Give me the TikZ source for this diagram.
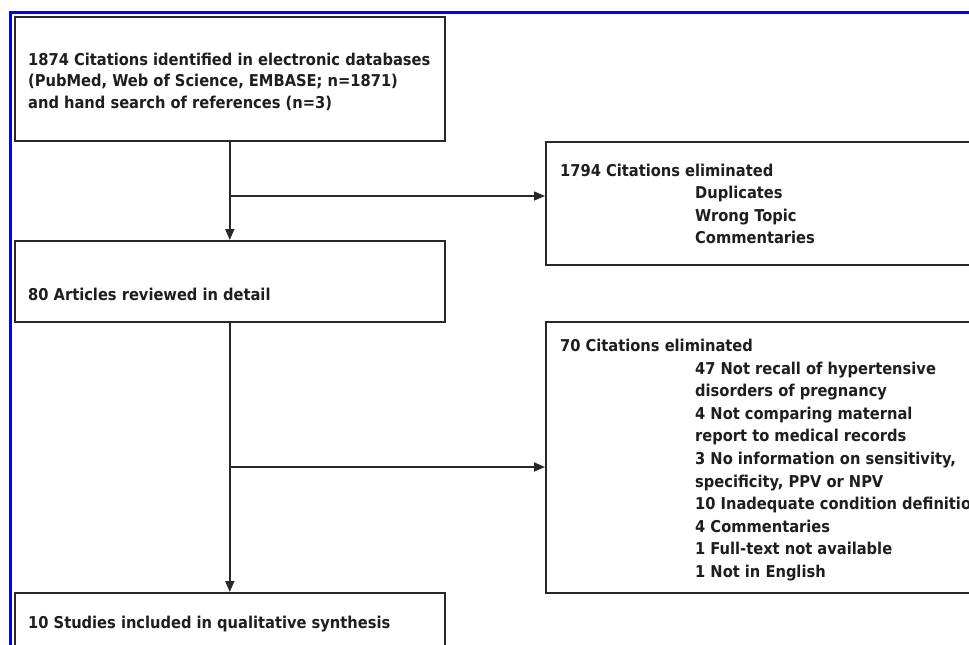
\documentclass[tikz,border=0pt]{standalone}
\usepackage{fontspec}
\setmainfont{DejaVu Sans Condensed}
\usetikzlibrary{arrows.meta}
\definecolor{frameblue}{RGB}{0,0,255}
\definecolor{boxline}{RGB}{40,40,40}
\definecolor{txt}{RGB}{30,30,30}
\newcommand{\lines}[1]{\begin{tabular}[t]{@{}l@{}}#1\end{tabular}}
\tikzset{
  box/.style={draw=boxline, line width=1.6pt, inner sep=0pt, anchor=north west},
  txtblock/.style={inner sep=0pt, anchor=base west, text=txt,
    font=\fontsize{16.3}{22.6}\selectfont\bfseries},
  conn/.style={draw=boxline, line width=1.5pt},
  arr/.style={conn, -{Triangle[length=11pt,width=9pt]}},
}
\begin{document}
\begin{tikzpicture}[x=1pt,y=-1pt]
\useasboundingbox (0,0) rectangle (969,645);
\clip (0,0) rectangle (969,645);
\fill[white] (0,0) rectangle (969,645);
% blue frame
\draw[frameblue, line width=3pt] (10,660) -- (10,12) -- (980,12);
% boxes
\node[box, minimum width=430pt, minimum height=124pt] (b1) at (14,16) {};
\node[box, minimum width=430pt, minimum height=81pt] (b2) at (14,240) {};
\node[box, minimum width=440pt, minimum height=123pt] (b3) at (545,141) {};
\node[box, minimum width=440pt, minimum height=271pt] (b4) at (545,321) {};
\node[box, minimum width=430pt, minimum height=80pt] (b5) at (14,592) {};
% texts
\node[txtblock, font=\fontsize{16.3}{21.5}\selectfont\bfseries] (t1) at (28,65) {\lines{1874 Citations identified in electronic databases\\(PubMed, Web of Science, EMBASE; n=1871)\\and hand search of references (n=3)}};
\node[txtblock] (t2) at (28,300) {80 Articles reviewed in detail};
\node[txtblock] (t5) at (28,628) {10 Studies included in qualitative synthesis};
\node[txtblock] (t3h) at (560,176) {1794 Citations eliminated};
\node[txtblock] (t3l) at (695,198.5) {\lines{Duplicates\\Wrong Topic\\Commentaries}};
\node[txtblock] (t4h) at (560,351) {70 Citations eliminated};
\node[txtblock] (t4l) at (695,374) {\lines{47 Not recall of hypertensive\\disorders of pregnancy\\4 Not comparing maternal\\report to medical records\\3 No information on sensitivity,\\specificity, PPV or NPV\\10 Inadequate condition definition\\4 Commentaries\\1 Full-text not available\\1 Not in English}};
% connectors
\coordinate (j1) at (b1.south |- 0,196);
\coordinate (j2) at (b2.south |- 0,467);
\draw[arr] (b1.south) -- (b2.north);
\draw[arr] (j1) -- (j1 -| b3.west);
\draw[arr] (b2.south) -- (b5.north);
\draw[arr] (j2) -- (j2 -| b4.west);
\end{tikzpicture}
\end{document}
